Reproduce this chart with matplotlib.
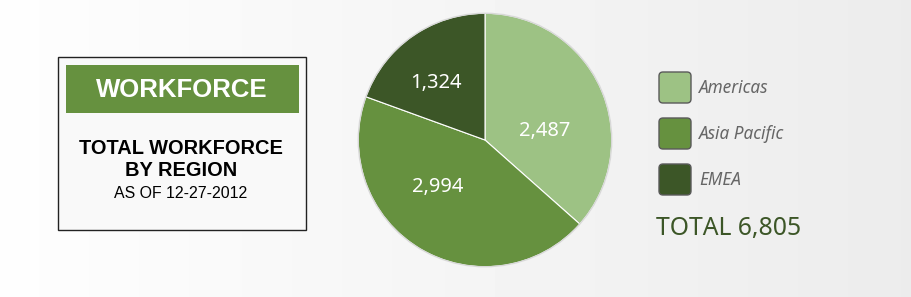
import matplotlib.pyplot as plt
import numpy as np
from matplotlib.patches import FancyBboxPatch, Rectangle

regions = ['Americas', 'Asia Pacific', 'EMEA']
workforce = [2487, 2994, 1324]
colors = ['#9dc284', '#66913f', '#3c5627']
value_labels = ['2,487', '2,994', '1,324']
# label spots inside the pie, in pie-radius units
label_xy = [(0.47, 0.07), (-0.37, -0.37), (-0.39, 0.45)]

W, H = 912, 297
fig = plt.figure(figsize=(W / 100, H / 100), dpi=100)

# background + left box + legend, drawn in pixel coordinates
bg = fig.add_axes([0, 0, 1, 1])
bg.set_xlim(0, W)
bg.set_ylim(H, 0)
bg.axis('off')
grad = np.linspace(0.995, 0.925, 256).reshape(1, -1)
bg.imshow(grad, cmap='gray', vmin=0, vmax=1, extent=[0, W, H, 0], aspect='auto')

bg.add_patch(Rectangle((58, 57), 248, 173, facecolor='#f9f9f9',
                       edgecolor='#222222', lw=1.0))
bg.add_patch(Rectangle((66, 65), 233, 48, facecolor='#66913f', edgecolor='none'))
bg.text(182, 90, 'WORKFORCE', color='white', fontsize=18.5, fontweight='bold',
        family='Liberation Sans', ha='center', va='center')
bg.text(181, 149, 'TOTAL WORKFORCE', color='black', fontsize=14.4, fontweight='bold',
        family='Liberation Sans', ha='center', va='center')
bg.text(181, 171, 'BY REGION', color='black', fontsize=14.4, fontweight='bold',
        family='Liberation Sans', ha='center', va='center')
bg.text(181, 193, 'AS OF 12-27-2012', color='black', fontsize=11.4,
        family='Liberation Sans', ha='center', va='center')

for i, (name, c) in enumerate(zip(regions, colors)):
    y0 = 72 + i * 46
    bg.add_patch(FancyBboxPatch((659, y0), 32, 31, boxstyle='round,pad=0,rounding_size=4',
                                facecolor=c, edgecolor='#5a5a5a', lw=1))
    bg.text(699, y0 + 16, name, color='#666666', fontsize=12.4, style='italic',
            family='Noto Sans', ha='left', va='center')

bg.text(656, 228, 'TOTAL {:,}'.format(sum(workforce)), color='#3c5627', fontsize=17.8,
        family='Noto Sans', ha='left', va='center')

# pie
cx, cy, r = 485, 140, 128
pax = fig.add_axes([(cx - r) / W, (H - cy - r) / H, 2 * r / W, 2 * r / H])
wedges, _ = pax.pie(workforce, colors=colors, startangle=90, counterclock=False,
                    radius=1, wedgeprops=dict(edgecolor='white', linewidth=0.8))
pax.add_patch(plt.Circle((0, 0), 1, fill=False, edgecolor='#d8d8d8', lw=1))
pax.set_xlim(-1.01, 1.01)
pax.set_ylim(-1.01, 1.01)
pax.set_aspect('equal')
pax.axis('off')
for lab, (x, y) in zip(value_labels, label_xy):
    pax.text(x, y, lab, color='white', fontsize=14.5, family='Noto Sans',
             ha='center', va='center')

fig.savefig('out.png', dpi=100)
